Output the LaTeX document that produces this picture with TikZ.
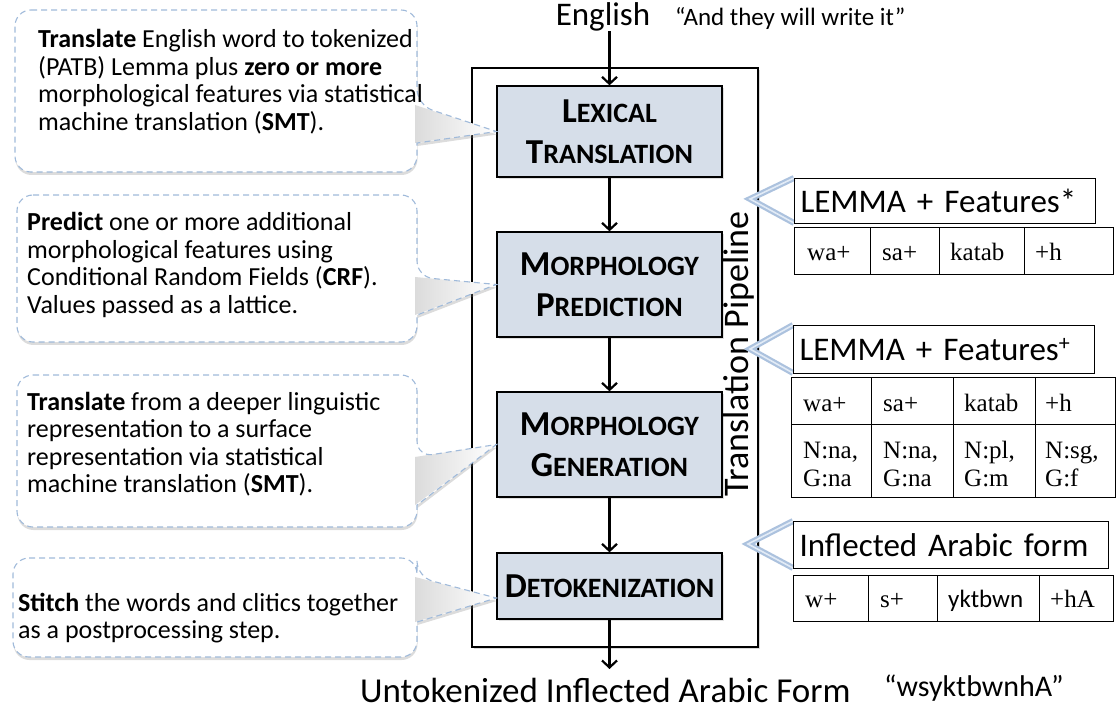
\documentclass[tikz,border=0pt]{standalone}
\usepackage{fontspec}
\setmainfont{Carlito}
\newfontfamily\tnr{Liberation Serif}
\usetikzlibrary{arrows.meta,shadows,calc}
\definecolor{boxfill}{RGB}{214,222,233}
\definecolor{dashblue}{RGB}{160,186,218}
\definecolor{chevblue}{RGB}{172,194,222}
\definecolor{chevlight}{RGB}{226,235,246}
\newcommand{\capword}[2]{{\fontsize{35}{41}\selectfont #1}{\fontsize{28}{41}\selectfont #2}}
\begin{document}
\begin{tikzpicture}[x=1pt,y=-1pt,
  stagebox/.style={draw=black, line width=1.3pt, fill=boxfill, minimum width=225pt, align=center, inner sep=0pt,
    font=\fontsize{35}{41}\selectfont\bfseries, drop shadow={opacity=0.25, shadow xshift=1.5pt, shadow yshift=-2pt}},
  flow/.style={line width=2.2pt, -{Straight Barb[length=7pt,width=15pt]}},
  ctext/.style={inner sep=0pt, anchor=base west, font=\fontsize{26}{27.5}\selectfont},
  cfill/.style={fill=white, drop shadow={opacity=0.28, shadow xshift=0.5pt, shadow yshift=-3pt}},
  cline/.style={draw=dashblue, line width=1.1pt, dash pattern=on 6pt off 4pt},
  wedgeshade/.style={left color=black!14, right color=white},
  titlebox/.style={draw=black, line width=1pt, anchor=north west, inner xsep=6pt, inner ysep=0pt, align=left, font=\fontsize{33}{33}\selectfont},
  cell/.style={inner sep=0pt, anchor=base west, font=\tnr\fontsize{25}{28}\selectfont},
  gridline/.style={draw=black, line width=1pt},
  chev/.style={line width=6pt, draw=chevblue, line join=miter},
  chevin/.style={line width=1.6pt, draw=chevlight},
]
\useasboundingbox (0,0) rectangle (1117,711);

% ---------- pipeline ----------
\node[draw=black, line width=1.3pt, fill=white, minimum width=286pt, minimum height=579pt, inner sep=0pt,
  drop shadow={opacity=0.3, shadow xshift=2pt, shadow yshift=-2pt}] (pipe) at (615,357.5) {};
\node[stagebox, minimum height=91pt]  (lex)   at (609.5,131.5) {\capword{L}{EXICAL}\\\capword{T}{RANSLATION}};
\node[stagebox, minimum height=105pt] (pred)  at (609.5,284.5) {\capword{M}{ORPHOLOGY}\\\capword{P}{REDICTION}};
\node[stagebox, minimum height=105pt] (gen)   at (609.5,444.5) {\capword{M}{ORPHOLOGY}\\\capword{G}{ENERATION}};
\node[stagebox, minimum height=66pt]  (detok) at (609.5,586)   {\capword{D}{ETOKENIZATION}};
\node[rotate=90, inner sep=0pt, font=\fontsize{36}{36}\selectfont] (tp) at (739,354) {Translation Pipeline};

\node[inner sep=0pt, font=\fontsize{33}{33}\selectfont] (eng) at (603,17) {English};
\node[inner sep=0pt, anchor=west, font=\fontsize{25}{25}\selectfont] (engq) at (675,19) {“And they will write it”};
\node[inner sep=0pt, anchor=west, font=\fontsize{35}{35}\selectfont] (unt) at (360,690) {Untokenized Inflected Arabic Form};
\node[inner sep=0pt, anchor=west, font=\fontsize{30}{30}\selectfont] (untq) at (884,688) {“wsyktbwnhA”};
\coordinate (outend) at (609.5,669);

\draw[flow] (lex.north |- eng.south) -- (lex.north);
\draw[flow] (lex.south) -- (pred.north);
\draw[flow] (pred.south) -- (gen.north);
\draw[flow] (gen.south) -- (detok.north);
\draw[flow] (detok.south) -- (outend);

% ---------- callouts ----------
\coordinate (k1) at (lex.west);
\coordinate (k2) at (pred.west);
\coordinate (k3) at (gen.west);
\coordinate (k4) at ($(detok.west)+(0,12)$);

\foreach \xa/\ya/\xb/\yb/\wa/\wb/\k in {15/10/417/172/105/143/k1, 17/195/417/342/277/315/k2, 17/375/417/527/457/505/k3, 13/558/417/657/577/622/k4}{
  \path[cfill, rounded corners=16pt] (\xa,\ya) -- (\xb,\ya) -- (\xb,\wa) [sharp corners] -- (\k) -- (\xb,\wb) [rounded corners=16pt] -- (\xb,\yb) -- (\xa,\yb) -- cycle;
  \shade[wedgeshade] (\xb-2,\wa) -- (\k) -- (\xb-2,\wb) -- cycle;
  \path[cline, rounded corners=16pt] (\xa,\ya) -- (\xb,\ya) -- (\xb,\wa) [sharp corners] -- (\k) -- (\xb,\wb) [rounded corners=16pt] -- (\xb,\yb) -- (\xa,\yb) -- cycle;
}

\node[ctext] (c1) at (38,48) {\parbox[t]{390pt}{\raggedright\textbf{Translate} English word to tokenized\\(PATB) Lemma plus \textbf{zero or more}\\morphological features via statistical\\machine translation (\textbf{SMT}).}};
\node[ctext] (c2) at (27,231) {\parbox[t]{390pt}{\raggedright\textbf{Predict} one or more additional\\morphological features using\\Conditional Random Fields (\textbf{CRF}).\\Values passed as a lattice.}};
\node[ctext] (c3) at (27,410) {\parbox[t]{390pt}{\raggedright\textbf{Translate} from a deeper linguistic\\representation to a surface\\representation via statistical\\machine translation (\textbf{SMT}).}};
\node[ctext] (c4) at (18,611) {\parbox[t]{390pt}{\raggedright\textbf{Stitch} the words and clitics together\\as a postprocessing step.}};

% ---------- right side ----------
\coordinate (v1) at (750,199);
\coordinate (v2) at (750,349);
\coordinate (v3) at (748,544);
\coordinate (t1nw) at (794,178); \coordinate (t1sw) at (794,223);
\coordinate (t2nw) at (793,325); \coordinate (t2sw) at (793,373);
\coordinate (t3nw) at (793,521); \coordinate (t3sw) at (793,568);
\foreach \a/\v/\b in {t1nw/v1/t1sw, t2nw/v2/t2sw, t3nw/v3/t3sw}{
  \draw[chev] (\a) -- (\v) -- (\b);
  \draw[chevin] (\a) -- (\v) -- (\b);
}
\node[titlebox, text width=289pt, minimum height=45pt] (t1) at (t1nw) {LEMMA + Features*};
\node[titlebox, text width=289pt, minimum height=48pt] (t2) at (t2nw) {LEMMA + Features\raisebox{0.32em}{\fontsize{22}{22}\selectfont +}};
\node[titlebox, text width=303pt, minimum height=47pt] (t3) at (t3nw) {Inflected Arabic form};

% table 1
\draw[gridline] (794,228) rectangle (1113,275);
\foreach \x in {870,939,1024} \draw[gridline] (\x,228) -- (\x,275);
\node[cell] (a1) at (807,261) {wa+};
\node[cell] (a2) at (882,261) {sa+};
\node[cell] (a3) at (950,261) {katab};
\node[cell] (a4) at (1035,261) {+h};

% table 2
\draw[gridline] (791,378) rectangle (1115,497);
\draw[gridline] (791,424) -- (1115,424);
\foreach \x in {871,953,1035} \draw[gridline] (\x,378) -- (\x,497);
\node[cell] (b1) at (803,411) {wa+};
\node[cell] (b2) at (883,411) {sa+};
\node[cell] (b3) at (964,411) {katab};
\node[cell] (b4) at (1045,411) {+h};
\node[cell] (b5) at (803,458) {\parbox[t]{80pt}{N:na,\\G:na}};
\node[cell] (b6) at (883,458) {\parbox[t]{80pt}{N:na,\\G:na}};
\node[cell] (b7) at (964,458) {\parbox[t]{80pt}{N:pl,\\G:m}};
\node[cell] (b8) at (1045,458) {\parbox[t]{80pt}{N:sg,\\G:f}};

% table 3
\draw[gridline] (793,575) rectangle (1113,621);
\foreach \x in {868,937,1039} \draw[gridline] (\x,575) -- (\x,621);
\node[cell] (d1) at (805,607) {w+};
\node[cell] (d2) at (880,607) {s+};
\node[cell, font=\fontsize{25}{28}\selectfont] (d3) at (948,607) {yktbwn};
\node[cell] (d4) at (1050,607) {+hA};
\end{tikzpicture}
\end{document}
